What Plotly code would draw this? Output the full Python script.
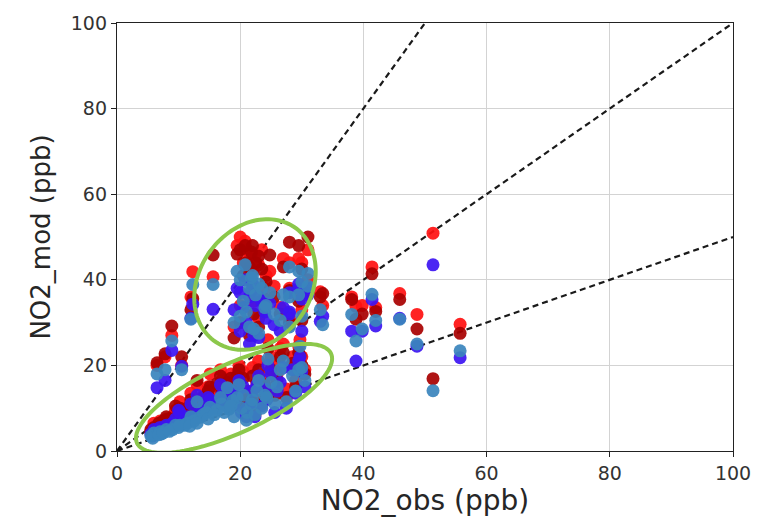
import numpy as np
import plotly.graph_objects as go

# Observed NO2 at each site (ppb)
obs = [5.5, 6.0, 6.5, 7.0, 7.8, 8.0, 8.9, 9.0, 10.0, 10.5,
       11.0, 11.4, 12.3, 12.5, 13.5, 14.0, 15.1, 15.6, 16.2, 17.0,
       17.9, 18.8, 19.5, 20.5, 21.1, 21.0, 22.7, 23.5, 19.5, 20.0,
       20.5, 21.0, 21.5, 22.0, 22.5, 23.0, 19.0, 20.0, 21.5, 23.0,
       24.0, 28.0, 29.5, 31.0, 28.0, 29.5, 31.0, 28.0, 30.0, 33.0,
       33.4, 25.6, 25.0, 26.5, 24.5, 28.5, 29.5, 30.5, 29.7, 27.5,
       38.1, 38.8, 39.8, 41.4, 42.0, 45.9, 48.7, 51.3, 55.7, 24.8,
       9.5, 12.0, 14.5, 16.8, 18.2, 19.8, 22.0, 13.0, 12.0, 7.2,
       5.8, 6.8, 7.5, 8.5, 10.2, 11.8, 13.0, 14.8, 15.8, 17.4,
       18.5, 19.0, 20.2, 21.8, 22.4, 23.0, 24.0, 24.3, 26.0, 27.0,
       29.0, 30.0, 20.8, 21.8, 23.5, 24.2, 25.5, 26.5, 22.2, 27.0,
       30.0]

# Modelled NO2 (ppb) for the four model configurations
mod_red = [4.5, 6.5, 20.0, 7.0, 22.0, 7.5, 27.0, 8.0, 9.0, 20.0,
           10.0, 8.5, 41.9, 11.0, 12.0, 13.0, 18.0, 40.7, 14.0, 16.5,
           17.0, 15.5, 16.0, 18.5, 14.0, 10.0, 16.0, 12.0, 48.0, 50.0,
           44.0, 47.0, 45.0, 42.0, 46.0, 43.5, 29.0, 34.0, 28.5, 31.0,
           38.0, 44.0, 45.0, 47.0, 38.0, 36.0, 40.0, 31.0, 33.0, 37.2,
           34.0, 20.6, 22.0, 24.0, 26.0, 22.0, 24.5, 19.0, 26.0, 14.5,
           36.0, 33.8, 34.0, 43.0, 33.5, 36.8, 31.9, 50.9, 29.6, 42.0,
           9.5, 13.5, 11.0, 19.0, 12.5, 20.0, 19.5, 15.5, 36.0, 6.0,
           3.8, 5.5, 6.0, 6.5, 11.5, 9.0, 10.5, 15.0, 12.0, 13.5,
           18.0, 14.0, 12.5, 13.0, 9.5, 21.0, 17.0, 14.0, 18.0, 25.0,
           16.5, 22.0, 49.0, 44.5, 47.0, 41.0, 38.5, 33.5, 35.0, 45.0,
           44.0]
mod_darkred = [5.0, 5.5, 20.6, 6.0, 22.7, 8.0, 29.2, 7.0, 8.5, 22.0,
               9.0, 9.5, 35.6, 10.0, 11.5, 12.5, 15.0, 45.8, 15.7, 14.0,
               16.0, 14.5, 17.5, 17.0, 12.0, 9.0, 15.0, 11.0, 46.0, 47.0,
               41.0, 44.0, 43.0, 48.0, 44.0, 45.5, 26.4, 30.0, 27.0, 29.0,
               35.5, 48.8, 48.0, 50.0, 37.5, 35.0, 37.0, 30.0, 30.5, 36.0,
               36.8, 13.0, 19.0, 22.0, 24.0, 20.5, 23.0, 18.0, 22.2, 12.5,
               35.4, 30.8, 32.0, 41.4, 32.6, 35.4, 28.5, 16.9, 27.5, 45.8,
               10.5, 12.0, 12.5, 17.5, 11.0, 19.0, 17.5, 16.5, 33.0, 5.0,
               4.5, 6.5, 7.0, 7.5, 10.0, 10.5, 9.5, 14.0, 11.0, 12.0,
               17.0, 13.0, 11.5, 12.0, 8.5, 19.0, 15.5, 13.0, 16.5, 23.0,
               15.0, 20.0, 48.0, 46.5, 42.5, 39.5, 36.0, 32.0, 32.0, 43.0,
               42.5]
mod_blue = [4.0, 5.0, 14.8, 5.5, 16.5, 6.0, 23.5, 6.5, 9.5, 19.8,
            7.0, 8.0, 34.3, 8.0, 9.0, 10.5, 12.0, 33.1, 11.5, 13.0,
            14.5, 12.0, 13.5, 15.0, 10.0, 8.0, 15.5, 10.5, 38.0, 37.0,
            33.5, 30.0, 36.0, 39.0, 34.0, 36.0, 33.0, 28.0, 25.0, 26.5,
            32.5, 37.0, 39.0, 38.0, 32.0, 38.0, 36.5, 32.5, 28.0, 30.3,
            31.5, 9.0, 18.0, 16.0, 20.0, 19.0, 21.0, 15.0, 22.0, 10.0,
            28.0, 21.0, 28.0, 35.4, 29.2, 31.0, 24.5, 43.5, 21.8, 34.5,
            7.5, 11.0, 9.5, 15.5, 10.0, 16.5, 14.0, 13.0, 31.0, 4.5,
            3.5, 4.8, 5.0, 5.8, 9.0, 7.5, 8.5, 12.5, 10.0, 11.5,
            14.0, 11.0, 9.0, 11.0, 8.0, 17.5, 14.5, 12.0, 14.0, 19.5,
            13.5, 18.5, 40.0, 37.5, 35.0, 31.0, 29.5, 28.0, 27.0, 33.5,
            35.5]
mod_steel = [3.5, 4.2, 18.0, 4.5, 19.0, 5.0, 25.7, 5.0, 5.5, 19.0,
             6.0, 6.5, 38.9, 7.0, 7.9, 8.5, 10.2, 38.9, 9.5, 11.0,
             14.8, 11.8, 12.5, 13.0, 9.0, 7.2, 14.1, 10.0, 42.0, 40.0,
             35.0, 32.5, 38.0, 41.0, 36.5, 39.0, 30.0, 31.5, 29.0, 27.5,
             33.5, 43.0, 42.0, 41.5, 36.0, 36.5, 38.5, 29.0, 31.5, 33.0,
             29.5, 11.0, 16.0, 19.0, 21.5, 17.5, 19.0, 16.5, 24.5, 11.5,
             31.9, 25.7, 28.5, 36.6, 30.5, 30.8, 25.0, 14.1, 23.4, 37.0,
             6.0, 8.0, 9.0, 12.5, 9.8, 15.5, 12.0, 11.5, 30.8, 4.0,
             3.0, 3.8, 4.2, 4.6, 6.0, 5.8, 6.5, 7.5, 8.5, 9.0,
             10.5, 8.0, 10.0, 11.0, 8.5, 16.5, 13.0, 12.5, 15.0, 21.0,
             14.0, 19.5, 43.5, 40.5, 38.0, 34.0, 32.0, 30.5, 28.5, 36.5,
             39.5]

# Reference lines y = k * x
ref_slopes = [2.0, 1.0, 0.5]

# Highlight ellipses: centre (data), semi-axes (px), tilt (deg)
ellipses = [
    dict(cx=22.4, cy=38.9, a=70, b=56, tilt=56),
    dict(cx=19.0, cy=12.3, a=107, b=34.5, tilt=25),
]

# Plot area geometry (px)
W, H = 769, 522
ML, MR, MT, MB = 117, 36, 19, 71
PW, PH = W - ML - MR, H - MT - MB
XR, YR = (0, 100), (0, 100)

fig = go.Figure()

for k in ref_slopes:
    xe = min(XR[1], YR[1] / k)
    fig.add_trace(go.Scatter(
        x=[0, xe], y=[0, k * xe], mode="lines",
        line=dict(color="#1a1a1a", width=2.2, dash="6px,4px"),
        hoverinfo="skip", showlegend=False))

series = [
    (mod_red, "#ff1010"),
    (mod_darkred, "#a80000"),
    (mod_blue, "#3c14f2"),
    (mod_steel, "#3a84bd"),
]
for ys, col in series:
    fig.add_trace(go.Scatter(
        x=obs, y=ys, mode="markers",
        marker=dict(size=13, color=col, opacity=0.92, line=dict(width=0)),
        showlegend=False, cliponaxis=False))

# Ellipse outlines converted from pixel space into data space
sx = PW / (XR[1] - XR[0])
sy = PH / (YR[1] - YR[0])
t = np.linspace(0, 2 * np.pi, 121)
for e in ellipses:
    th = np.deg2rad(e["tilt"])
    px = e["a"] * np.cos(t) * np.cos(th) - e["b"] * np.sin(t) * np.sin(th)
    py = e["a"] * np.cos(t) * np.sin(th) + e["b"] * np.sin(t) * np.cos(th)
    xs = e["cx"] + px / sx
    ys = e["cy"] + py / sy
    path = "M " + " L ".join(f"{a:.3f},{b:.3f}" for a, b in zip(xs, ys)) + " Z"
    fig.add_shape(type="path", path=path, xref="x", yref="y",
                  line=dict(color="#8cc84b", width=4), layer="above")

axis_common = dict(
    range=list(XR), tickvals=[0, 20, 40, 60, 80, 100],
    showgrid=True, gridcolor="#d3d3d3", gridwidth=1,
    showline=True, linecolor="#222222", linewidth=1.3, mirror=True,
    ticks="outside", ticklen=5, tickcolor="#222222",
    tickfont=dict(family="DejaVu Sans", size=19, color="#333333"),
    zeroline=False,
)
fig.update_xaxes(**axis_common,
                 title=dict(text="NO2_obs (ppb)", standoff=6,
                            font=dict(family="DejaVu Sans", size=28, color="#262626")))
fig.update_yaxes(**{**axis_common, "range": list(YR)},
                 title=dict(text="NO2_mod (ppb)", standoff=12,
                            font=dict(family="DejaVu Sans", size=26, color="#262626")))

fig.update_layout(
    width=W, height=H,
    margin=dict(l=ML, r=MR, t=MT, b=MB),
    plot_bgcolor="white", paper_bgcolor="white",
)

fig.write_html("out.html")
